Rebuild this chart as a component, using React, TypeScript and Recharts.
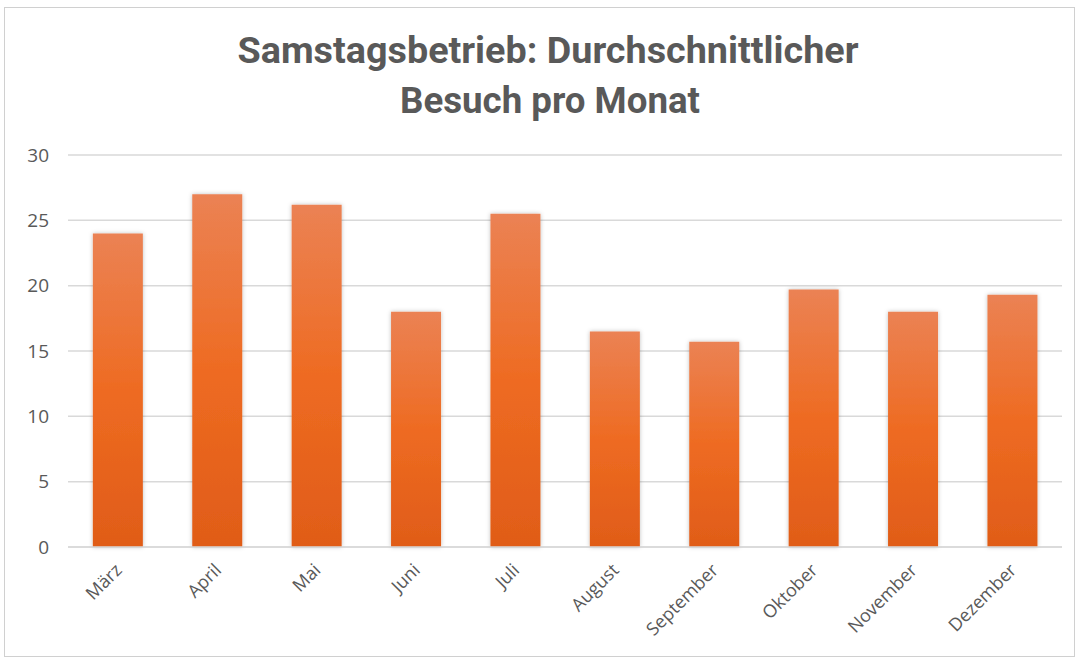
import React from "react";
import { BarChart, Bar, XAxis, YAxis, CartesianGrid } from "recharts";

const months = ["März", "April", "Mai", "Juni", "Juli", "August", "September", "Oktober", "November", "Dezember"];
const visits = [24, 27, 26.2, 18, 25.5, 16.5, 15.7, 19.7, 18, 19.3];
const yTicks = [0, 5, 10, 15, 20, 25, 30];
const titleLines = ["Samstagsbetrieb: Durchschnittlicher", "Besuch pro Monat"];

const data = months.map((m, i) => ({ month: m, value: visits[i] }));

const XTick = (props: any) => {
  const { x, y, payload } = props;
  return (
    <g transform={`translate(${x + 1},${y + 12})`}>
      <text
        x={0}
        y={0}
        textAnchor="end"
        fill="#595959"
        fontSize={18}
        fontFamily="'Open Sans', 'Liberation Sans', sans-serif"
        transform="rotate(-45)"
        dy={6}
      >
        {payload.value}
      </text>
    </g>
  );
};

export default function App() {
  return (
    <div style={{ position: "absolute", left: 0, top: 0, width: 1081, height: 660, background: "#fff" }}>
      <div
        style={{
          position: "absolute",
          left: 4,
          top: 7,
          width: 1071,
          height: 650,
          border: "1px solid #d0d0d0",
          boxSizing: "border-box",
        }}
      />
      <svg
        width={1081}
        height={130}
        style={{ position: "absolute", left: 0, top: 0 }}
      >
        <text
          x={548}
          y={63}
          textAnchor="middle"
          textLength={621}
          lengthAdjust="spacingAndGlyphs"
          fontFamily="Roboto, 'Open Sans', sans-serif"
          fontWeight={700}
          fontSize={37}
          fill="#595959"
        >
          {titleLines[0]}
        </text>
        <text
          x={550}
          y={113}
          textAnchor="middle"
          textLength={300}
          lengthAdjust="spacingAndGlyphs"
          fontFamily="Roboto, 'Open Sans', sans-serif"
          fontWeight={700}
          fontSize={37}
          fill="#595959"
        >
          {titleLines[1]}
        </text>
      </svg>
      <div style={{ position: "absolute", left: 0, top: 0 }}>
        <BarChart
          width={1081}
          height={660}
          data={data}
          margin={{ top: 155, right: 19, bottom: 0, left: 8 }}
          barCategoryGap="25%"
        >
          <defs>
            <linearGradient id="barGrad" x1="0" y1="0" x2="0" y2="1">
              <stop offset="0%" stopColor="#EB8254" />
              <stop offset="50%" stopColor="#EE6B22" />
              <stop offset="100%" stopColor="#E05C18" />
            </linearGradient>
            <filter id="shadow" x="-20%" y="-5%" width="140%" height="110%">
              <feDropShadow dx="0" dy="0" stdDeviation="2" floodColor="#000" floodOpacity="0.25" />
            </filter>
          </defs>
          <CartesianGrid vertical={false} stroke="#d9d9d9" strokeWidth={1.5} />
          <XAxis
            dataKey="month"
            axisLine={{ stroke: "#d9d9d9", strokeWidth: 1.5 }}
            tickLine={false}
            height={113}
            interval={0}
            tick={<XTick />}
          />
          <YAxis
            domain={[0, 30]}
            ticks={yTicks}
            axisLine={false}
            tickLine={false}
            width={60}
            tickMargin={13}
            tick={{ fill: "#595959", fontSize: 19, fontFamily: "'Open Sans', 'Liberation Sans', sans-serif" }}
          />
          <Bar dataKey="value" fill="url(#barGrad)" filter="url(#shadow)" isAnimationActive={false} />
        </BarChart>
      </div>
    </div>
  );
}
